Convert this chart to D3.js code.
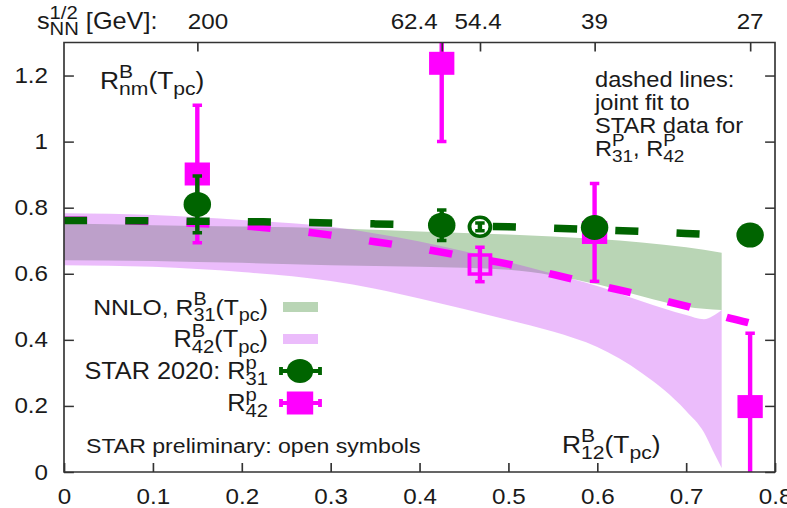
<!DOCTYPE html>
<html>
<head>
<meta charset="utf-8">
<script src="https://cdn.jsdelivr.net/npm/d3@7/dist/d3.min.js"></script>
<style>
body { margin: 0; background: #fff; }
svg { display: block; }
text { font-family: "Liberation Sans", Arial, sans-serif; fill: #1a1a1a; white-space: pre; }
</style>
</head>
<body>
<div id="chart"></div>
<script>
// axes
var xTicks = [0, 0.1, 0.2, 0.3, 0.4, 0.5, 0.6, 0.7, 0.8]
var yTicks = [0, 0.2, 0.4, 0.6, 0.8, 1, 1.2]
var energyX = [0.15, 0.425, 0.468, 0.597, 0.772]
var energyLabels = ['200', '62.4', '54.4', '39', '27']
var energyLabelX = [0.162, 0.394, 0.466, 0.597, 0.772]

// NNLO bands, R31 (green) and R42 (violet)
var bandX31 = [0, 0.1, 0.2, 0.3, 0.4, 0.5, 0.55, 0.6, 0.65, 0.7, 0.74]
var bandLo31 = [0.641, 0.639, 0.633, 0.626, 0.621, 0.612, 0.595, 0.568, 0.532, 0.5, 0.49]
var bandHi31 = [0.752, 0.747, 0.743, 0.738, 0.728, 0.719, 0.713, 0.705, 0.695, 0.68, 0.664]

var bandX42 = [0, 0.1, 0.2, 0.3, 0.35, 0.4, 0.45, 0.5, 0.55, 0.6, 0.65, 0.7, 0.72, 0.73, 0.74]
var bandLo42 = [0.626, 0.621, 0.605, 0.578, 0.555, 0.525, 0.493, 0.46, 0.425, 0.378, 0.3, 0.185, 0.12, 0.065, 0.012]
var bandHi42 = [0.783, 0.778, 0.763, 0.742, 0.722, 0.698, 0.668, 0.636, 0.6, 0.563, 0.517, 0.475, 0.462, 0.472, 0.49]

// joint fit (dashed)
var fitX = [0, 0.05, 0.1, 0.15, 0.2, 0.25, 0.3, 0.35, 0.4, 0.45, 0.5, 0.55, 0.6, 0.65, 0.7, 0.75, 0.77]
var fit31 = [0.761, 0.761, 0.76, 0.759, 0.758, 0.756, 0.754, 0.751, 0.748, 0.745, 0.742, 0.738, 0.733, 0.728, 0.722, 0.717, 0.715]
var fit42 = [0.762, 0.761, 0.758, 0.752, 0.745, 0.733, 0.717, 0.697, 0.677, 0.653, 0.629, 0.598, 0.566, 0.535, 0.502, 0.465, 0.452]

// STAR 2020
var starX = [0.15, 0.425, 0.597, 0.772]
var star31 = [0.81, 0.747, 0.74, 0.717]
var star31Err = [0.086, 0.046, 0.008, 0.008]
var star42 = [0.902, 1.237, 0.725, 0.198]
var star42Err = [0.208, 0.237, 0.148, 0.222]

// STAR preliminary (open symbols)
var prelimX = [0.468]
var prelim31 = [0.742]
var prelim31Err = [0.012]
var prelim42 = [0.628]
var prelim42Err = [0.052]

var green = '#006400'
var magenta = '#ff00ff'
var bandGreen = '#b9d5b5'
var bandViolet = '#c43cf2'

// the figure is stretched a bit horizontally
var SX = 1.1
var W = 787, H = 508
var VW = W / SX

var svg = d3.select('#chart')
    .append('svg')
    .attr('width', W)
    .attr('height', H)
    .attr('viewBox', `0 0 ${VW} ${H}`)
    .attr('preserveAspectRatio', 'none')

var xScale = d3.scaleLinear().domain([0, 0.8]).range([64 / SX, 775 / SX])
var yScale = d3.scaleLinear().domain([0, 1.3]).range([472, 42.5])
var x0 = xScale(0), x1 = xScale(0.8), y0 = yScale(0), y1 = yScale(1.3)

svg.append('clipPath').attr('id', 'plotclip')
    .append('rect')
    .attr('x', x0).attr('y', y1)
    .attr('width', x1 - x0).attr('height', y0 - y1)

var plot = svg.append('g').attr('clip-path', 'url(#plotclip)')

// bands
var area = d3.area()
    .x(d => xScale(d[0]))
    .y0(d => yScale(d[1]))
    .y1(d => yScale(d[2]))
    .curve(d3.curveMonotoneX)

plot.append('path')
    .attr('d', area(d3.zip(bandX31, bandLo31, bandHi31)))
    .attr('fill', bandGreen)
plot.append('path')
    .attr('d', area(d3.zip(bandX42, bandLo42, bandHi42)))
    .attr('fill', bandViolet)
    .attr('fill-opacity', 0.34)

var line = d3.line()
    .x(d => xScale(d[0]))
    .y(d => yScale(d[1]))
    .curve(d3.curveMonotoneX)

function dashed(values, color) {
    plot.append('path')
        .attr('d', line(d3.zip(fitX, values)))
        .attr('fill', 'none')
        .attr('stroke', color)
        .attr('stroke-width', 7.5)
        .attr('stroke-dasharray', '21 34.7')
}

function errorBars(g, pts, color) {
    g.selectAll(null).data(pts).enter().append('line')
        .attr('x1', d => xScale(d.x)).attr('x2', d => xScale(d.x))
        .attr('y1', d => yScale(d.y - d.e)).attr('y2', d => yScale(d.y + d.e))
        .attr('stroke', color).attr('stroke-width', 4)
    g.selectAll(null).data(pts).enter().append('g')
        .each(function (d) {
            var cx = xScale(d.x)
            d3.select(this).selectAll('line').data([d.y - d.e, d.y + d.e]).enter().append('line')
                .attr('x1', cx - 4.3).attr('x2', cx + 4.3)
                .attr('y1', v => yScale(v)).attr('y2', v => yScale(v))
                .attr('stroke', color).attr('stroke-width', 3.5)
        })
}

function points(xs, ys, es) {
    return xs.map((x, i) => ({x: x, y: ys[i], e: es[i]}))
}

// R42: fit, data
dashed(fit42, magenta)
var p42 = points(starX, star42, star42Err)
var q42 = points(prelimX, prelim42, prelim42Err)
errorBars(plot, p42, magenta)
plot.selectAll(null).data(p42).enter().append('rect')
    .attr('x', d => xScale(d.x) - 11.5).attr('y', d => yScale(d.y) - 11.5)
    .attr('width', 23).attr('height', 23)
    .attr('fill', magenta)
errorBars(plot, q42, magenta)
plot.selectAll(null).data(q42).enter().append('rect')
    .attr('x', d => xScale(d.x) - 9.5).attr('y', d => yScale(d.y) - 9.5)
    .attr('width', 19).attr('height', 19)
    .attr('fill', 'none').attr('stroke', magenta).attr('stroke-width', 3.5)

// R31: fit, data
dashed(fit31, green)
var p31 = points(starX, star31, star31Err)
var q31 = points(prelimX, prelim31, prelim31Err)
errorBars(plot, p31, green)
plot.selectAll(null).data(p31).enter().append('circle')
    .attr('cx', d => xScale(d.x)).attr('cy', d => yScale(d.y))
    .attr('r', 12.5)
    .attr('fill', green)
plot.selectAll(null).data(q31).enter().append('circle')
    .attr('cx', d => xScale(d.x)).attr('cy', d => yScale(d.y))
    .attr('r', 9.5)
    .attr('fill', '#fff').attr('stroke', green).attr('stroke-width', 3.5)
errorBars(plot, q31, green)

// axes, ticks inside
var axisColor = '#333'
var fontSize = 22

var bottomAxis = svg.append('g')
    .attr('transform', `translate(0, ${y0})`)
    .call(d3.axisBottom(xScale).tickValues(xTicks).tickSize(-9).tickSizeOuter(0).tickPadding(16).tickFormat(d => String(d)))
var leftAxis = svg.append('g')
    .attr('transform', `translate(${x0}, 0)`)
    .call(d3.axisLeft(yScale).tickValues(yTicks).tickSize(-9).tickSizeOuter(0).tickPadding(14.5).tickFormat(d => String(d)))
var rightAxis = svg.append('g')
    .attr('transform', `translate(${x1}, 0)`)
    .call(d3.axisRight(yScale).tickValues(yTicks).tickSize(-9).tickSizeOuter(0).tickFormat(''))
var topAxis = svg.append('g')
    .attr('transform', `translate(0, ${y1})`)
    .call(d3.axisTop(xScale).tickValues(energyX).tickSize(-9).tickSizeOuter(0).tickFormat(''))

;[bottomAxis, leftAxis, rightAxis, topAxis].forEach(a => {
    a.select('.domain').remove()
    a.selectAll('line').attr('stroke', axisColor).attr('stroke-width', 1.5)
    a.selectAll('text').style('font-size', fontSize + 'px')
})

svg.append('rect')
    .attr('x', x0).attr('y', y1)
    .attr('width', x1 - x0).attr('height', y0 - y1)
    .attr('fill', 'none').attr('stroke', axisColor).attr('stroke-width', 1.5)

svg.append('g').selectAll('text').data(energyLabels).enter().append('text')
    .attr('x', (d, i) => xScale(energyLabelX[i]))
    .attr('y', 29)
    .attr('text-anchor', 'middle')
    .style('font-size', fontSize + 'px')
    .text(d => d)

// text with gnuplot style ^{..} and _{..}
function richText(parent, str, x, y, size, anchor) {
    var text = parent.append('text')
        .attr('x', x).attr('y', y)
        .style('font-size', size + 'px')
    var small = size * 0.8
    var up = size * 0.45
    var down = size * 0.27
    var dx = 0, dy = 0
    var re = /\^\{([^}]*)\}_\{([^}]*)\}|\^\{([^}]*)\}|_\{([^}]*)\}|([^^_]+)/g
    var m
    while ((m = re.exec(str)) !== null) {
        if (m[5] !== undefined) {
            text.append('tspan').attr('dx', dx).attr('dy', dy).text(m[5])
            dx = 0; dy = 0
        } else if (m[1] !== undefined) {
            var sup = text.append('tspan').attr('dx', dx).attr('dy', dy - up)
                .style('font-size', small + 'px').text(m[1])
            var w1 = sup.node().getComputedTextLength()
            var sub = text.append('tspan').attr('dx', -w1).attr('dy', up + down)
                .style('font-size', small + 'px').text(m[2])
            var w2 = sub.node().getComputedTextLength()
            dx = Math.max(0, w1 - w2); dy = -down
        } else if (m[3] !== undefined) {
            text.append('tspan').attr('dx', dx).attr('dy', dy - up)
                .style('font-size', small + 'px').text(m[3])
            dx = 0; dy = up
        } else {
            text.append('tspan').attr('dx', dx).attr('dy', dy + down)
                .style('font-size', small + 'px').text(m[4])
            dx = 0; dy = -down
        }
    }
    if (anchor === 'end') {
        var box = text.node().getBBox()
        text.attr('x', x - (box.x + box.width - x))
    }
    return text
}

var labels = svg.append('g')
richText(labels, 's^{1/2}_{NN} [GeV]:', 37 / SX, 29, 23)
richText(labels, 'R^{B}_{nm}(T_{pc})', 100 / SX, 89, 24)
richText(labels, 'R^{B}_{12}(T_{pc})', 562 / SX, 453, 24)
richText(labels, 'STAR preliminary: open symbols', 86 / SX, 453, 21)

var note = ['dashed lines:', 'joint fit to', 'STAR data for', 'R^{P}_{31}, R^{P}_{42}']
note.forEach((s, i) => richText(labels, s, 595 / SX, 87 + i * 23, 21.5))

// legend
var legend = svg.append('g')
var rowY = [307, 339, 371, 403]
var textX = 268 / SX
var keyX0 = 283 / SX, keyX1 = 318 / SX, keyC = 300 / SX
richText(legend, 'NNLO, R^{B}_{31}(T_{pc})', textX, rowY[0] + 8, 22.5, 'end')
richText(legend, 'R^{B}_{42}(T_{pc})', textX, rowY[1] + 8, 23, 'end')
richText(legend, 'STAR 2020: R^{p}_{31}', textX, rowY[2] + 8, 23, 'end')
richText(legend, 'R^{p}_{42}', textX, rowY[3] + 8, 23, 'end')

legend.append('rect')
    .attr('x', keyX0).attr('y', rowY[0] - 5)
    .attr('width', keyX1 - keyX0).attr('height', 10)
    .attr('fill', bandGreen)
legend.append('rect')
    .attr('x', keyX0).attr('y', rowY[1] - 5)
    .attr('width', keyX1 - keyX0).attr('height', 10)
    .attr('fill', bandViolet).attr('fill-opacity', 0.34)

function keyBar(y, color) {
    var a = 281 / SX, b = 320 / SX
    legend.append('line').attr('x1', a).attr('x2', b).attr('y1', y).attr('y2', y)
        .attr('stroke', color).attr('stroke-width', 4)
    ;[a, b].forEach(v => legend.append('line')
        .attr('x1', v).attr('x2', v).attr('y1', y - 4).attr('y2', y + 4)
        .attr('stroke', color).attr('stroke-width', 3.5))
}
keyBar(rowY[2], green)
legend.append('circle').attr('cx', keyC).attr('cy', rowY[2]).attr('r', 12).attr('fill', green)
keyBar(rowY[3], magenta)
legend.append('rect')
    .attr('x', keyC - 12).attr('y', rowY[3] - 11.5)
    .attr('width', 24).attr('height', 23)
    .attr('fill', magenta)
</script>
</body>
</html>
